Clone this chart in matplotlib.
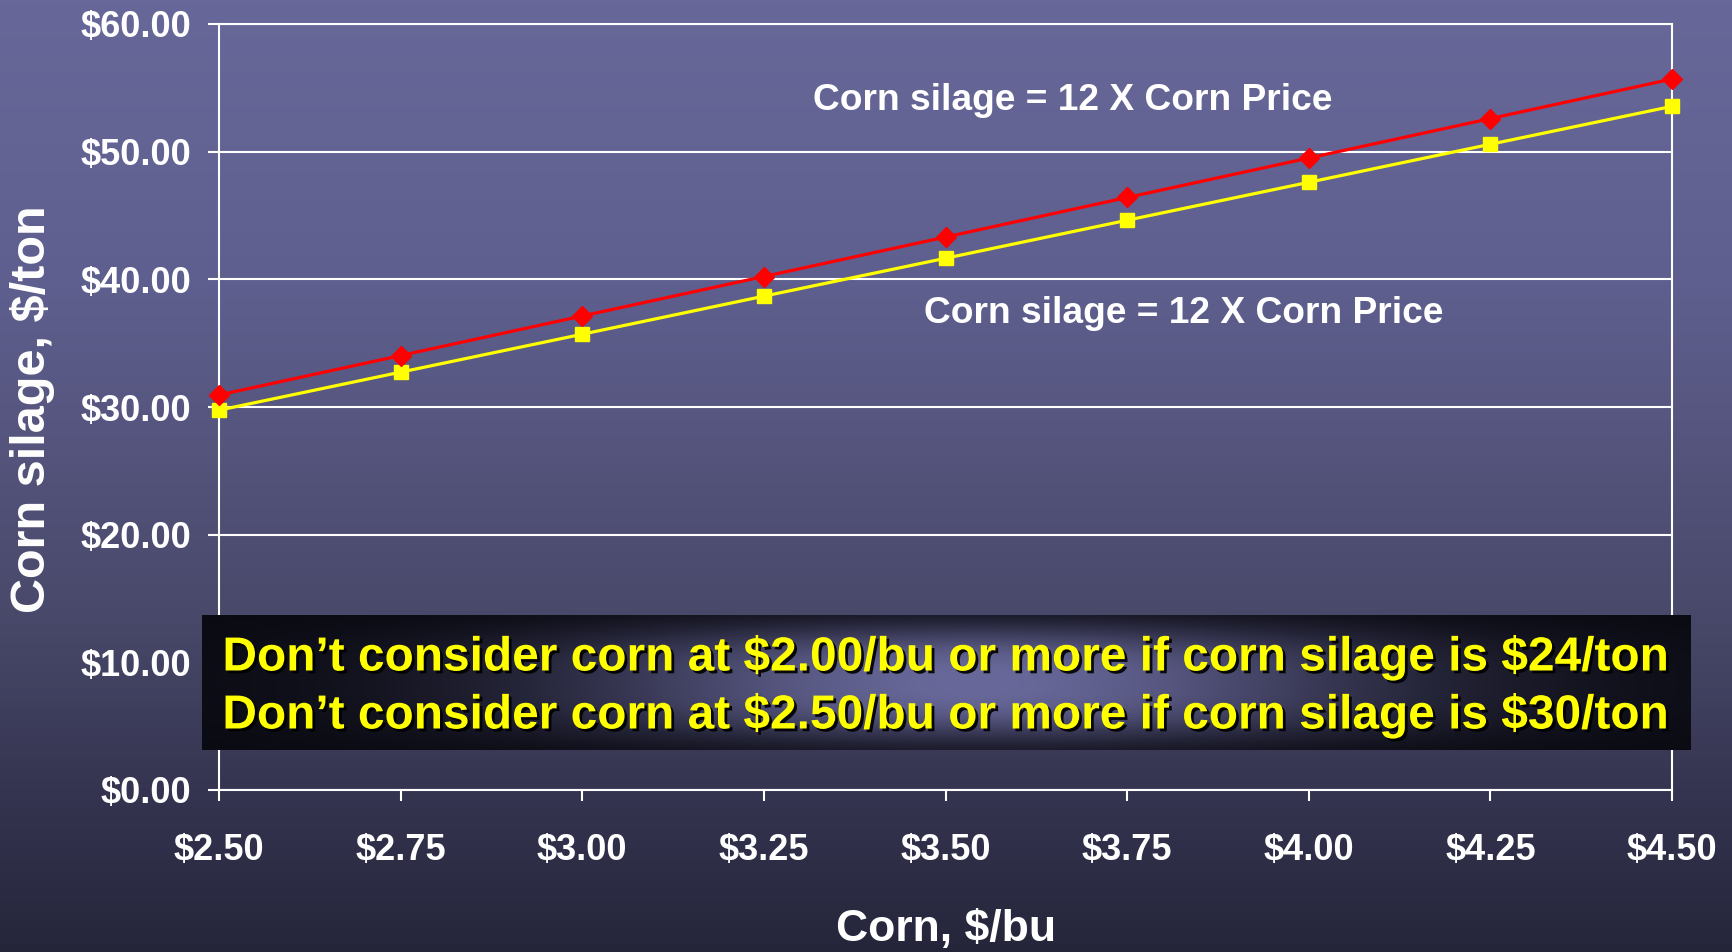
import numpy as np
import matplotlib
matplotlib.use("Agg")
import matplotlib.pyplot as plt
import matplotlib.patheffects as pe
from matplotlib.colors import LinearSegmentedColormap
from matplotlib.font_manager import FontProperties

plt.rcParams["text.parse_math"] = False

# ---- data ----
corn_price = [2.50, 2.75, 3.00, 3.25, 3.50, 3.75, 4.00, 4.25, 4.50]
silage_red = [30.94, 34.03, 37.13, 40.22, 43.31, 46.41, 49.50, 52.59, 55.69]
silage_yellow = [29.75, 32.73, 35.70, 38.68, 41.65, 44.63, 47.60, 50.58, 53.55]
y_ticks = [0, 10, 20, 30, 40, 50, 60]
x_tick_labels = ["$2.50", "$2.75", "$3.00", "$3.25", "$3.50", "$3.75", "$4.00", "$4.25", "$4.50"]
y_tick_labels = ["$0.00", "$10.00", "$20.00", "$30.00", "$40.00", "$50.00", "$60.00"]
note_red = "Corn silage = 12 X Corn Price"
note_yellow = "Corn silage = 12 X Corn Price"
box_lines = ["Don\u2019t consider corn at $2.00/bu or more if corn silage is $24/ton",
             "Don\u2019t consider corn at $2.50/bu or more if corn silage is $30/ton"]
x_label = "Corn, $/bu"
y_label = "Corn silage, $/ton"

W, H = 1732, 952
fig = plt.figure(figsize=(W / 100, H / 100), dpi=100)

# background vertical gradient
bg = fig.add_axes([0, 0, 1, 1], zorder=0)
bg_cmap = LinearSegmentedColormap.from_list(
    "bg", [(0.0, "#676799"), (0.3, "#5f5f8f"), (0.63, "#4a4a6c"), (0.84, "#343450"), (1.0, "#25253a")])
grad = np.linspace(0, 1, 256).reshape(-1, 1)
bg.imshow(grad, cmap=bg_cmap, aspect="auto", extent=[0, 1, 0, 1], origin="upper")
bg.set_axis_off()

# main axes
ax = fig.add_axes([219 / W, 1 - 790 / H, (1672 - 219) / W, (790 - 24) / H], zorder=1)
ax.patch.set_alpha(0)
ax.set_xlim(2.5, 4.5)
ax.set_ylim(0, 60)
ax.set_yticks(y_ticks)
ax.set_yticklabels(y_tick_labels)
ax.set_xticks(corn_price)
ax.set_xticklabels(x_tick_labels)
for s in ax.spines.values():
    s.set_color("white")
    s.set_linewidth(1.5)
ax.grid(axis="y", color="white", linewidth=1.5)
ax.set_axisbelow(True)
tick_fp = FontProperties(family="Liberation Sans", weight="bold", size=26)
ax.tick_params(axis="both", colors="white", length=8, width=1.5, direction="out")
ax.tick_params(axis="y", pad=12)
ax.tick_params(axis="x", pad=23)
for lab in ax.get_xticklabels() + ax.get_yticklabels():
    lab.set_fontproperties(tick_fp)
    lab.set_color("white")

ax.plot(corn_price, silage_red, color="#ff0000", lw=2.3, marker="D", ms=10,
        mec="#ff0000", mfc="#ff0000", zorder=4, clip_on=False)
ax.plot(corn_price, silage_yellow, color="#ffff00", lw=2.3, marker="s", ms=9.5,
        mec="#ffff00", mfc="#ffff00", zorder=3, clip_on=False)

ann_font = dict(family="Liberation Sans", weight="bold", size=26.7, color="white")
fig.text(1073 / W, 1 - 100 / H, note_red, ha="center", va="center", **ann_font)
fig.text(1184 / W, 1 - 314 / H, note_yellow, ha="center", va="center", **ann_font)

fig.text(946 / W, 1 - 930 / H, x_label, ha="center", va="center",
         family="Liberation Sans", weight="bold", size=32, color="white")
fig.text(33 / W, 1 - 409 / H, y_label, ha="center", va="center", rotation=90,
         family="Liberation Sans", weight="bold", size=35, color="white")

# text box with glow
bx0, bx1, by0, by1 = 202, 1691, 615, 750
box = fig.add_axes([bx0 / W, 1 - by1 / H, (bx1 - bx0) / W, (by1 - by0) / H], zorder=5)
nx, ny = 800, 80
xx, yy = np.meshgrid(np.linspace(-1, 1, nx), np.linspace(-1, 1, ny))
hx = np.exp(-((xx - 0.04) ** 2 / 0.55 ** 2))
vy = np.exp(-(np.abs(yy) / 0.85) ** 3)
glow = hx * vy
dark = np.array([10, 10, 18]) / 255
light = np.array([104, 104, 154]) / 255
img = dark + (light - dark) * glow[..., None]
box.imshow(img, aspect="auto", extent=[0, 1, 0, 1])
box.set_axis_off()

shadow = [pe.withSimplePatchShadow(offset=(2, -2), shadow_rgbFace="black", alpha=0.9)]
for i, line in enumerate(box_lines):
    t = fig.text(946 / W, 1 - (658 + 58 * i) / H, line, ha="center", va="center",
                 family="Liberation Sans", weight="bold", size=34.45, color="#ffff00", zorder=6)
    t.set_path_effects(shadow)

fig.savefig("out.png", dpi=100)
